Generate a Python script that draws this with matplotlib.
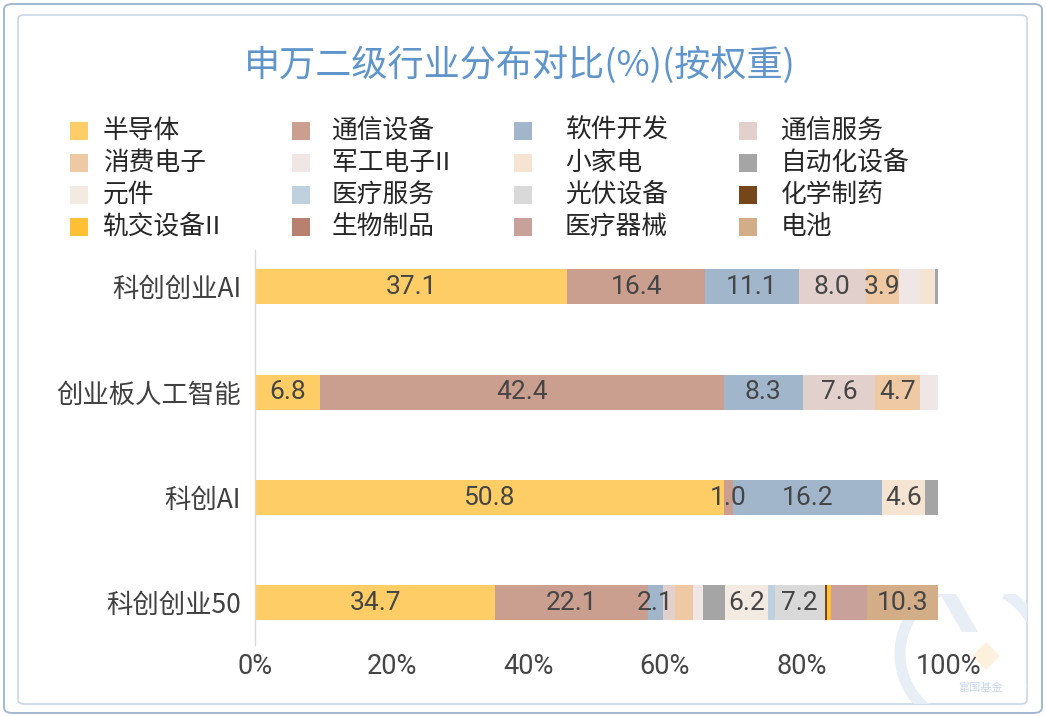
import matplotlib
matplotlib.use("Agg")
import matplotlib.pyplot as plt
import matplotlib.transforms as mtransforms
from matplotlib.patches import FancyBboxPatch, Rectangle, Arc, Polygon
import numpy as np

# ---------------- data ----------------
categories = ["科创创业AI", "创业板人工智能", "科创AI", "科创创业50"]

series_names = ["半导体", "通信设备", "软件开发", "通信服务",
                "消费电子", "军工电子II", "小家电", "自动化设备",
                "元件", "医疗服务", "光伏设备", "化学制药",
                "轨交设备II", "生物制品", "医疗器械", "电池"]

semiconductor = [37.1, 6.8, 50.8, 34.7]
telecom_equipment = [16.4, 42.4, 1.0, 22.1]
software = [11.1, 8.3, 16.2, 2.1]
telecom_services = [8.0, 7.6, 0.0, 1.8]
consumer_electronics = [3.9, 4.7, 0.0, 2.6]
military_electronics = [2.5, 1.9, 0.0, 1.5]
small_appliances = [1.75, 0.0, 4.6, 0.0]
automation_equipment = [0.4, 0.0, 1.45, 3.1]
components = [0.0, 0.0, 0.0, 6.2]
medical_services = [0.0, 0.0, 0.0, 1.0]
pv_equipment = [0.0, 0.0, 0.0, 7.2]
chemical_pharma = [0.0, 0.0, 0.0, 0.4]
rail_equipment = [0.0, 0.0, 0.0, 0.6]
biologics = [0.0, 0.0, 0.0, 0.0]
medical_devices = [0.0, 0.0, 0.0, 5.1]
batteries = [0.0, 0.0, 0.0, 10.3]

series_values = [semiconductor, telecom_equipment, software, telecom_services,
                 consumer_electronics, military_electronics, small_appliances,
                 automation_equipment, components, medical_services, pv_equipment,
                 chemical_pharma, rail_equipment, biologics, medical_devices, batteries]

# which segments carry a value label (per series, per category)
labeled = {
    "半导体": [1, 1, 1, 1],
    "通信设备": [1, 1, 1, 1],
    "软件开发": [1, 1, 1, 1],
    "通信服务": [1, 1, 0, 0],
    "消费电子": [1, 1, 0, 0],
    "小家电": [0, 0, 1, 0],
    "元件": [0, 0, 0, 1],
    "光伏设备": [0, 0, 0, 1],
    "电池": [0, 0, 0, 1],
}

colors = ["#FFCD66", "#CB9F8F", "#A1B5CB", "#E2D0CC",
          "#EEC9A4", "#F0E6E5", "#F6E4D2", "#A5A5A5",
          "#F3EAE2", "#BFD0DF", "#D9D9D9", "#74461A",
          "#FFC033", "#B8806E", "#C7A19A", "#D2AD88"]

xticks = [0, 20, 40, 60, 80, 100]
xtick_labels = ["0%", "20%", "40%", "60%", "80%", "100%"]

# ---------------- style ----------------
CJK = ["Noto Sans CJK SC", "DejaVu Sans"]
NUM = ["Roboto", "DejaVu Sans"]
plt.rcParams["font.family"] = CJK

W, H = 1046, 716
fig = plt.figure(figsize=(W / 100, H / 100), dpi=100)
fig.patch.set_facecolor("white")

def fx(px):
    return px / W

def fy(py):
    return 1 - py / H

# frames
outer = FancyBboxPatch((fx(4), fy(713)), fx(1038), 709 / H,
                       boxstyle="round,pad=0,rounding_size=0.008",
                       transform=fig.transFigure, facecolor="white",
                       edgecolor="#A3B8D2", linewidth=1.4, zorder=0)
fig.patches.append(outer)
inner = FancyBboxPatch((fx(18), fy(704)), fx(1009), 689 / H,
                       boxstyle="round,pad=0,rounding_size=0.006",
                       transform=fig.transFigure, facecolor="white",
                       edgecolor="#C9D6E6", linewidth=1.2, zorder=0)
fig.patches.append(inner)

# faint watermark logo (bottom-right)
wm = fig.add_axes([fx(880), fy(704), fx(147), 110 / H], zorder=0.5)
wm.set_xlim(0, 147)
wm.set_ylim(0, 110)
wm.axis("off")
wm.patch.set_alpha(0)
wm.add_patch(Arc((90, 50), 140, 140, theta1=100, theta2=260, color="#E8EEF6", lw=8))
wm.add_patch(Arc((90, 50), 140, 140, theta1=-30, theta2=60, color="#E8EEF6", lw=8))
wm.add_patch(Polygon([[60, 110], [76, 110], [98, 72], [82, 72]], closed=True, color="#E8EEF6", lw=0))
wm.add_patch(Polygon([[92, 48], [106, 62], [120, 48], [106, 34]], closed=True, color="#FDF1DE", lw=0))
wm.text(100, 16, "富国基金", fontsize=8, color="#C9D6E6", ha="center", va="center", family=CJK)

# title
fig.text(fx(520), fy(65), "申万二级行业分布对比(%)(按权重)", fontsize=26,
         color="#5F95CB", ha="center", va="center", family=CJK)

# legend (manual, 4 columns)
col_sq = [70, 292, 514, 739]
col_tx = [103, 332, 565, 781]
row_y = [131, 163, 195, 227]
for i, (name, c) in enumerate(zip(series_names, colors)):
    r, k = divmod(i, 4)
    fig.patches.append(Rectangle((fx(col_sq[k]), fy(row_y[r] + 9)), fx(18), 18 / H,
                                 transform=fig.transFigure, facecolor=c,
                                 edgecolor="none", zorder=2))
    fig.text(fx(col_tx[k]), fy(row_y[r]), name, fontsize=18.5, color="#262626",
             ha="left", va="center", family=CJK)

# ---------------- main axes ----------------
ax = fig.add_axes([fx(255), fy(645), fx(683), 395 / H], zorder=2)
ax.patch.set_alpha(0)

vals = np.array(series_values, dtype=float)          # series x categories
totals = vals.sum(axis=0)
pct = vals / totals * 100
ypos = np.arange(len(categories))
left = np.zeros(len(categories))
for s, name in enumerate(series_names):
    ax.barh(ypos, pct[s], left=left, height=0.33, color=colors[s],
            edgecolor="none", zorder=2)
    flags = labeled.get(name, [0] * len(categories))
    for j in range(len(categories)):
        if flags[j] and vals[s, j] > 0:
            ax.text(left[j] + pct[s, j] / 2, ypos[j], f"{vals[s, j]:.1f}",
                    ha="center", va="center", fontsize=19, color="#454545",
                    family=NUM, zorder=3)
    left = left + pct[s]

ax.set_xlim(0, 100)
ax.set_ylim(3.4, -0.35)
ax.set_yticks(ypos)
ax.set_yticklabels(categories, fontsize=19, color="#404040", family=CJK)
ax.set_xticks(xticks)
ax.set_xticklabels(xtick_labels, fontsize=19.5, color="#454545", family=NUM)
ax.tick_params(axis="both", length=0)
ax.tick_params(axis="y", pad=10)
ax.tick_params(axis="x", pad=6)
for side in ["top", "right", "bottom"]:
    ax.spines[side].set_visible(False)
ax.spines["left"].set_color("#D9D9D9")
ax.spines["left"].set_linewidth(1.0)

# the last tick label sits slightly right of its tick in the reference
last = ax.get_xticklabels()[-1]
last.set_transform(last.get_transform() +
                   mtransforms.ScaledTranslation(10 / 100, 0, fig.dpi_scale_trans))

fig.savefig("out.png", dpi=100)
